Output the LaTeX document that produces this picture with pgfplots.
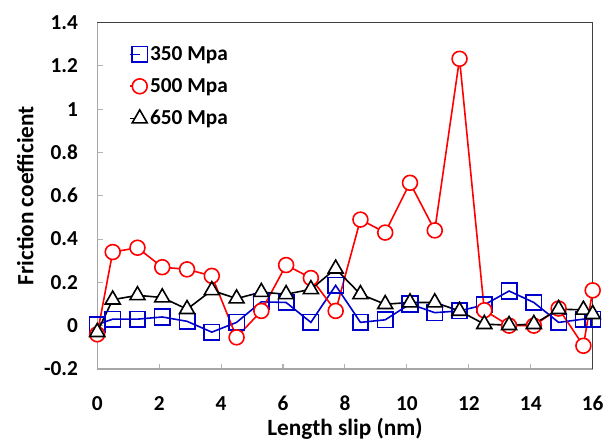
\documentclass[border=0pt]{standalone}
\usepackage{fontspec}
\setmainfont{Carlito}
\usepackage{pgfplots}
\pgfplotsset{compat=1.18}
\definecolor{sblue}{RGB}{0,0,204}
\definecolor{sred}{RGB}{255,0,0}

\begin{document}
\begin{tikzpicture}
\begin{axis}[
    scale only axis,
    width=372pt,
    height=260pt,
    xmin=0, xmax=16,
    ymin=-0.2, ymax=1.4,
    xtick={0,2,...,16},
    ytick={-0.2,0,0.2,0.4,0.6,0.8,1,1.2,1.4},
    tick align=inside,
    xtick pos=bottom,
    ytick pos=left,
    major tick length=4pt,
    tick style={gray!60, line width=0.8pt},
    axis line style={gray!70, line width=1pt},
    clip=false,
    /pgf/number format/assume math mode=true,
    ticklabel style={font=\fontsize{16}{18}\selectfont\bfseries},
    yticklabel style={anchor=east, xshift=-11pt},
    xticklabel style={anchor=center, yshift=-26pt},
    xlabel={Length slip (nm)},
    ylabel={Friction coefficient},
    label style={font=\fontsize{17.5}{20}\selectfont\bfseries},
    xlabel style={at={(axis description cs:0.5,0)}, anchor=center, yshift=-45pt},
    ylabel style={at={(axis description cs:0,0.5)}, anchor=center, yshift=54pt},
    legend cell align=left,
    legend style={at={(0.063,0.94)}, anchor=north west, draw=none, fill=none,
        font=\fontsize{16}{18}\selectfont\bfseries, row sep=8pt,
        inner sep=0pt},
    legend image code/.code={
        \draw[#1, mark repeat=2, mark phase=2] plot coordinates {(0cm,0cm) (0.27cm,0cm)};
    },
    every axis plot/.append style={line width=1.2pt},
]
% 350 Mpa
\addplot[sblue, mark=square, mark size=5.8pt, mark options={fill=white, solid}] coordinates {
    (0,0.005) (0.5,0.03) (1.3,0.03) (2.1,0.04) (2.9,0.02) (3.7,-0.03) (4.5,0.015)
    (5.3,0.11) (6.1,0.107) (6.9,0.015) (7.7,0.186) (8.5,0.015) (9.3,0.027)
    (10.1,0.10) (10.9,0.06) (11.7,0.068) (12.5,0.096) (13.3,0.16) (14.1,0.107)
    (14.9,0.015) (15.7,0.03) (16,0.03)
};
\addlegendentry{350 Mpa}
% 500 Mpa
\addplot[sred, mark=*, mark size=5.6pt, mark options={fill=white, solid}] coordinates {
    (0,-0.04) (0.5,0.34) (1.3,0.36) (2.1,0.27) (2.9,0.26) (3.7,0.23) (4.5,-0.054)
    (5.3,0.068) (6.1,0.28) (6.9,0.22) (7.7,0.068) (8.5,0.49) (9.3,0.43)
    (10.1,0.66) (10.9,0.44) (11.7,1.233) (12.5,0.071) (13.3,0.0) (14.1,0.0)
    (14.9,0.079) (15.7,-0.093) (16,0.163)
};
\addlegendentry{500 Mpa}
% 650 Mpa
\addplot[black, mark=triangle*, mark size=6.5pt, mark options={fill=white, solid}] coordinates {
    (0,-0.03) (0.5,0.12) (1.3,0.14) (2.1,0.13) (2.9,0.076) (3.7,0.163) (4.5,0.125)
    (5.3,0.155) (6.1,0.145) (6.9,0.168) (7.7,0.263) (8.5,0.145) (9.3,0.099)
    (10.1,0.107) (10.9,0.107) (11.7,0.068) (12.5,0.007) (13.3,0.002) (14.1,0.007)
    (14.9,0.076) (15.7,0.073) (16,0.053)
};
\addlegendentry{650 Mpa}
\draw[black!75, line width=1pt] (rel axis cs:0,1) -- (rel axis cs:1,1) -- (rel axis cs:1,0);
\end{axis}
% white margins as in the reference
\path ([yshift=17pt]current axis.north west);
\path ([xshift=16pt]current axis.south east);
\path ([xshift=-73pt]current axis.south west);
\end{tikzpicture}
\end{document}
